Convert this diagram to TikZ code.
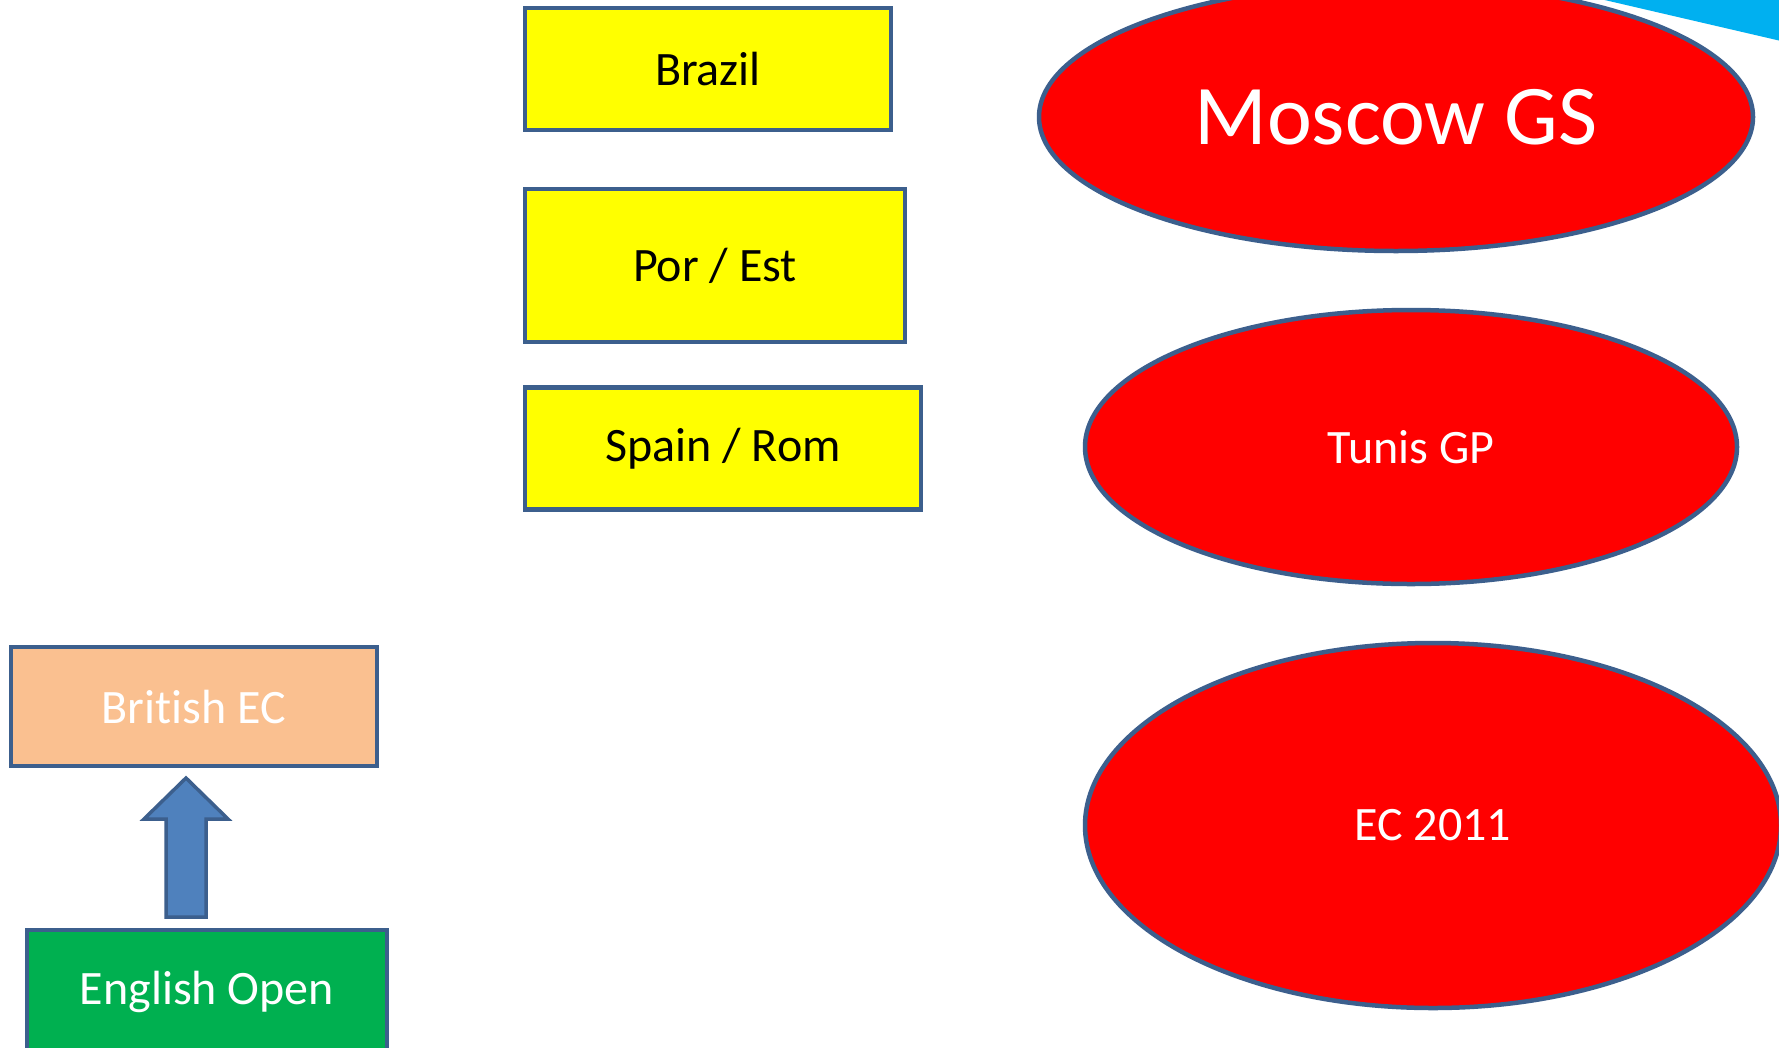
\documentclass[tikz,border=0pt]{standalone}
\usepackage{fontspec}
\setmainfont{Carlito}[Ligatures=NoCommon]
\usetikzlibrary{shapes.geometric}
\definecolor{edgeblue}{HTML}{3C5F8D}
\definecolor{boxyellow}{HTML}{FFFF00}
\definecolor{boxred}{HTML}{FF0000}
\definecolor{boxorange}{HTML}{FAC090}
\definecolor{boxgreen}{HTML}{00B050}
\definecolor{arrowblue}{HTML}{4F81BD}
\definecolor{skycyan}{HTML}{00B0F0}
\begin{document}
\begin{tikzpicture}[x=1pt,y=-1pt,
  rbox/.style={draw=edgeblue, line width=4.5pt, rectangle, inner sep=0pt, font=\fontsize{48}{52}\selectfont},
  ybox/.style={rbox, fill=boxyellow, text=black},
  oval/.style={draw=edgeblue, line width=4.5pt, ellipse, fill=boxred, text=white, inner sep=0pt, font=\fontsize{48}{52}\selectfont}
]
\useasboundingbox (0,0) rectangle (1779,1047);
\clip (0,0) rectangle (1779,1047);
\fill[white] (0,0) rectangle (1779,1047);

% cyan shape at top right
\fill[skycyan] (1596,-2) -- (1781,-2) -- (1781,41) -- cycle;

% yellow boxes
\node[ybox, minimum width=366pt, minimum height=122pt] (brazil) at (708,69) {Brazil};
\node[ybox, minimum width=380pt, minimum height=153pt] (porest) at (715,265.5) {Por / Est};
\node[ybox, minimum width=396pt, minimum height=122pt] (spain) at (723,448.5) {Spain / Rom};

% ellipses
\node[oval, minimum width=714pt, minimum height=268pt, font=\fontsize{85}{90}\selectfont] (moscow) at (1396,117) {Moscow GS};
\node[oval, minimum width=652pt, minimum height=274pt] (tunis) at (1411,447) {Tunis GP};
\node[oval, minimum width=696pt, minimum height=365pt] (ec) at (1433,825.5) {EC 2011};

% left boxes
\node[rbox, fill=boxorange, text=white, minimum width=366pt, minimum height=119pt] (british) at (194,706.5) {British EC};
\node[rbox, fill=boxgreen, text=white, minimum width=360pt, minimum height=124pt] (english) at (207,992) {English Open};

% block arrow from English Open up to British EC
\draw[edgeblue, line width=3.5pt, fill=arrowblue, line join=miter]
  (166,917) -- (166,819) -- (144,819) -- (186,778) -- (228,819) -- (206,819) -- (206,917) -- cycle;
\end{tikzpicture}
\end{document}
